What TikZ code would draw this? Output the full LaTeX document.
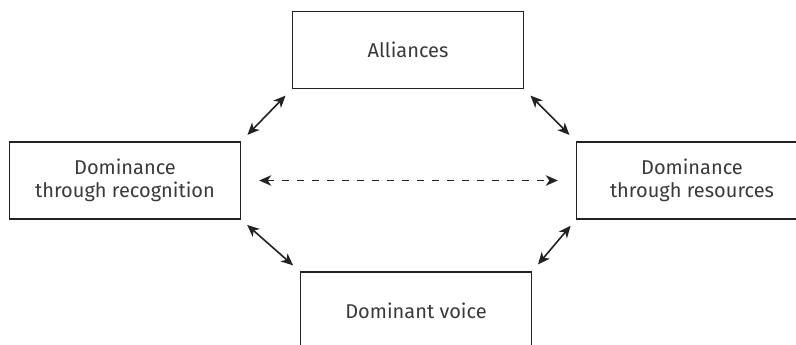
\documentclass[tikz,border=0pt]{standalone}
\usepackage{fontspec}
\setmainfont{Fira Sans}
\usetikzlibrary{arrows.meta}
\definecolor{ink}{HTML}{222222}
\definecolor{txt}{HTML}{3A3A3A}
\begin{document}
\begin{tikzpicture}[x=1pt,y=-1pt,
  card/.style={draw=ink, line width=1.4pt, minimum width=231pt, minimum height=77pt,
    inner sep=0pt, align=center, text=txt, font=\fontsize{20}{23}\selectfont},
  tip/.style={Stealth[length=12pt,width=10.5pt,inset=3.5pt]},
  link/.style={draw=ink, line width=1.6pt, {Stealth[length=12pt,width=10.5pt,inset=3.5pt]}-{Stealth[length=12pt,width=10.5pt,inset=3.5pt]}},
  weak/.style={link, dash pattern=on 7pt off 8pt}]
  \clip (0,0) rectangle (796,345);
  \node[card] (all) at (408,50) {Alliances};
  \node[card] (rec) at (125,180.5) {Dominance\\through recognition};
  \node[card] (res) at (692,180.5) {Dominance\\through resources};
  \node[card] (voi) at (416,310.5) {Dominant voice};
  \draw[link, shorten <=9pt, shorten >=9pt] (rec.north east) -- (all.south west);
  \draw[link, shorten <=9pt, shorten >=9pt] (all.south east) -- (res.north west);
  \draw[link, shorten <=8pt, shorten >=9pt] (rec.south east) -- (voi.north west);
  \draw[link, shorten <=8pt, shorten >=9pt] (res.south west) -- (voi.north east);
  \draw[weak, shorten <=18pt, shorten >=18pt] (rec.east) -- (res.west);
\end{tikzpicture}
\end{document}
